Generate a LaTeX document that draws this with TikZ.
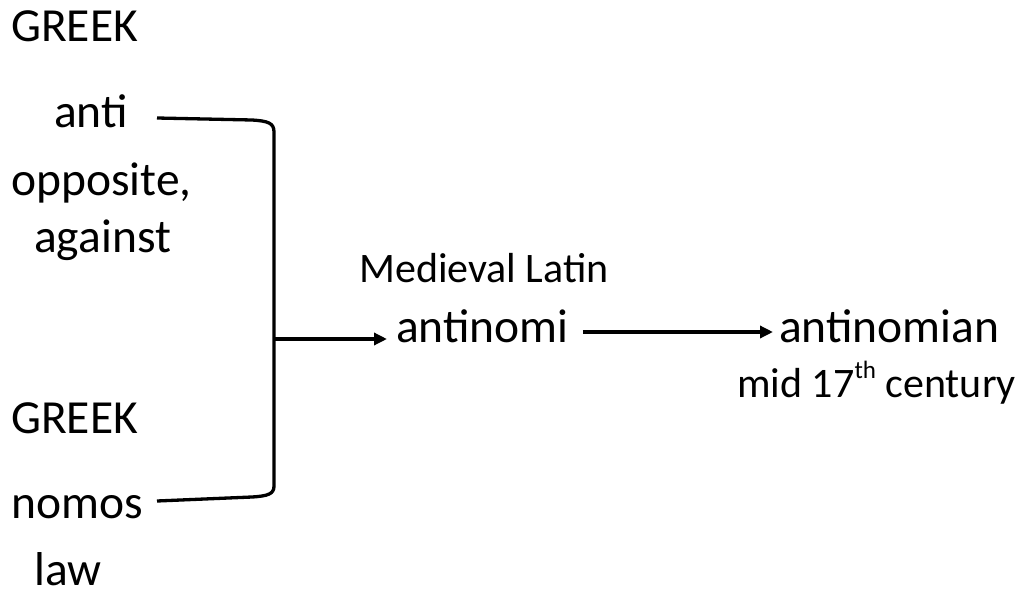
\documentclass[tikz,border=0pt]{standalone}
\usepackage{fontspec}
\setmainfont{Carlito}
\usetikzlibrary{arrows.meta,calc}
\begin{document}
\begin{tikzpicture}[x=1pt,y=-1pt,
  word/.style={anchor=base west,inner sep=0pt,font=\fontsize{47.5}{50}\selectfont},
  small/.style={anchor=base west,inner sep=0pt,font=\fontsize{42}{44}\selectfont},
  line/.style={line width=3.3pt,line join=round},
  arr/.style={line width=3.3pt,-{Triangle[length=13pt,width=12pt]}}]
\useasboundingbox (0,0) rectangle (1026,594);
\node[word] (greek1) at (11,42) {GREEK};
\node[word] (anti) at (54,128) {anti};
\node[word] (opp) at (11,195) {opposite,};
\node[word] (against) at (34,252) {against};
\node[word] (greek2) at (11,433) {GREEK};
\node[word] (nomos) at (11,518) {nomos};
\node[word] (law) at (34,585) {law};
\node[small] (medlat) at (359,282) {Medieval Latin};
\node[word] (antinomi) at (396,342) {antinomi};
\node[word] (antinomian) at (779,342) {antinomian};
\node[small] (mid) at (737,397) {mid 17\raisebox{0.45em}{\fontsize{25}{26}\selectfont th} century};
\coordinate (bt) at (157,118);
\coordinate (bb) at (157,501);
\coordinate (jn) at (274,339);
\draw[line] (bt) -- (252,120) .. controls (268,121) and (274,123) .. (274,132)
  -- (274,486) .. controls (274,494) and (268,496) .. (252,497) -- (bb);
\draw[arr] (jn) -- ($(antinomi.base west)+(-9,-3)$);
\draw[arr] ($(antinomi.base east)+(14,-10)$) -- ($(antinomian.base west)+(-6,-10)$);
\end{tikzpicture}
\end{document}
